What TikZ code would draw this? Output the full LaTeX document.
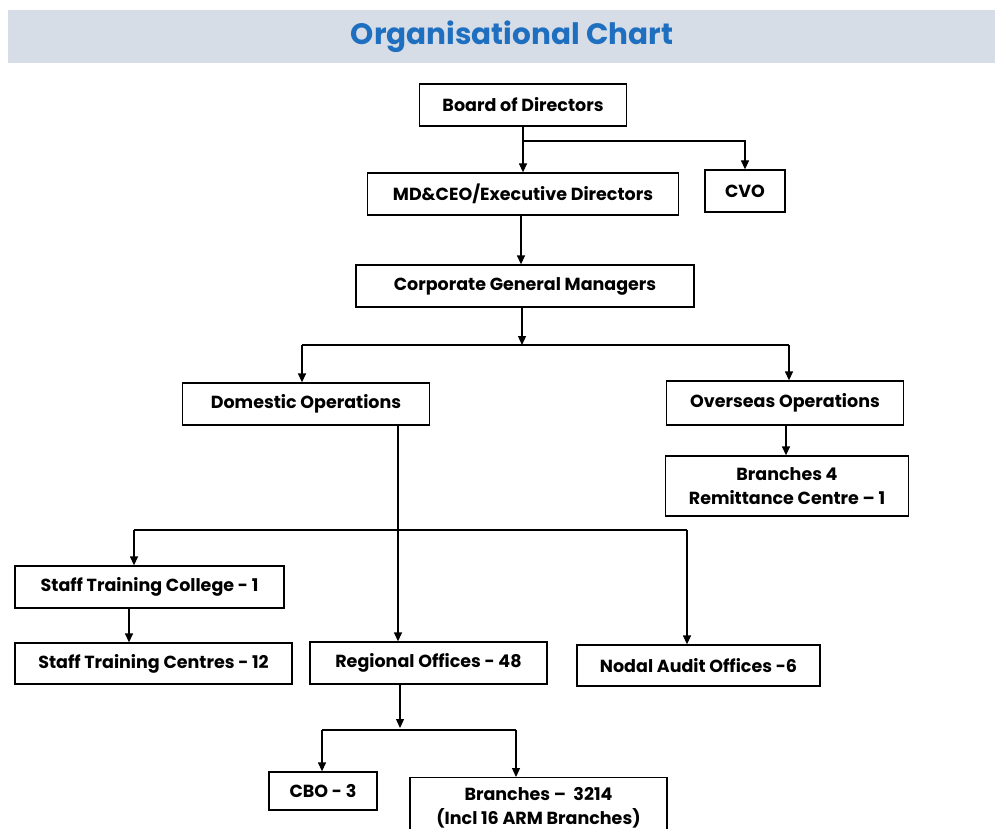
\documentclass[tikz,border=0pt]{standalone}
\usepackage{fontspec}
\setmainfont{Poppins}
\usetikzlibrary{arrows.meta}
\definecolor{bandc}{HTML}{D7DDE6}
\definecolor{titlec}{HTML}{1F6FC0}
\begin{document}
\begin{tikzpicture}[x=1pt,y=-1pt,
  box/.style={draw=black,line width=1.3pt,align=center,inner sep=0pt,font=\fontsize{17.5}{23.5}\selectfont\bfseries},
  conn/.style={line width=1.3pt,draw=black},
  arr/.style={conn,-{Triangle[length=9pt,width=8pt]}}]
\clip (0,0) rectangle (995,829);
\fill[white] (0,0) rectangle (995,829);
\fill[bandc] (8,10) rectangle (995,63);
\node[text=titlec,font=\fontsize{29.5}{34}\selectfont\bfseries] (title) at (512,37) {Organisational Chart};

\node[box,minimum width=207pt,minimum height=42pt] (bod) at (523,105) {Board of Directors};
\node[box,minimum width=311pt,minimum height=42pt] (md) at (523,194) {MD\&CEO/Executive Directors};
\node[box,minimum width=80pt,minimum height=42pt] (cvo) at (745,191) {CVO};
\node[box,minimum width=338pt,minimum height=42pt] (cgm) at (525,286) {Corporate General Managers};
\node[box,minimum width=247pt,minimum height=42pt] (dom) at (306,404) {Domestic Operations};
\node[box,minimum width=237pt,minimum height=44pt] (ovs) at (785,403) {Overseas Operations};
\node[box,minimum width=243pt,minimum height=60pt] (br4) at (787,486) {Branches 4\\Remittance Centre -- 1};
\node[box,minimum width=269pt,minimum height=42pt] (stc) at (149.5,587) {Staff Training College - 1};
\node[box,minimum width=277pt,minimum height=41pt] (stcs) at (153.5,663.5) {Staff Training Centres - 12};
\node[box,minimum width=237pt,minimum height=42pt] (ro) at (428.5,663) {Regional Offices - 48};
\node[box,minimum width=243pt,minimum height=41pt] (nao) at (698.5,665.5) {Nodal Audit Offices -6};
\node[box,minimum width=108pt,minimum height=38pt] (cbo) at (323,791) {CBO - 3};
\node[box,minimum width=257pt,minimum height=60pt,anchor=north] (br) at (538.5,777) {Branches -- \ 3214\\(Incl 16 ARM Branches)};

% connectors
\coordinate (j1) at (523,141);
\draw[arr] (bod.south -| j1) -- (md.north -| j1);
\draw[arr] (j1) -| (cvo.north);
\draw[arr] (md.south -| 521,0) -- (cgm.north -| 521,0);
\coordinate (j2) at (522,345);
\draw[arr] (cgm.south -| j2) -- (j2);
\draw[conn] (302,345) -- (789,345);
\draw[arr] (302,345) -- (dom.north -| 302,0);
\draw[arr] (789,345) -- (ovs.north -| 789,0);
\draw[arr] (ovs.south -| 786,0) -- (br4.north -| 786,0);
\coordinate (j3) at (398,530);
\draw[arr] (dom.south -| j3) -- (ro.north -| j3);
\draw[conn] (134,530) -- (687,530);
\draw[arr] (134,530) -- (stc.north -| 134,0);
\draw[arr] (687,530) -- (nao.north -| 687,0);
\draw[arr] (stc.south -| 129,0) -- (stcs.north -| 129,0);
\coordinate (j4) at (400,728);
\draw[arr] (ro.south -| j4) -- (j4);
\draw[conn] (322,730) -- (516,730);
\draw[arr] (322,730) -- (cbo.north -| 322,0);
\draw[arr] (516,730) -- (br.north -| 516,0);
\end{tikzpicture}
\end{document}
